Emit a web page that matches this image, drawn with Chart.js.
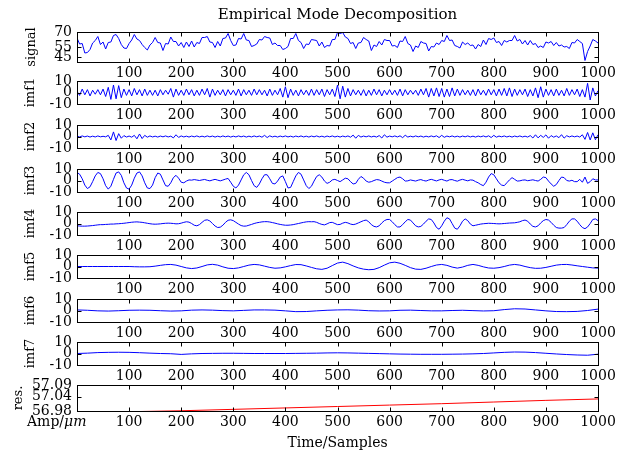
<!DOCTYPE html>
<html>
<head>
<meta charset="utf-8">
<script src="https://cdn.jsdelivr.net/npm/chart.js@4.4.1/dist/chart.umd.min.js"></script>
<style>
  html, body { margin: 0; padding: 0; background: #fff; }
  #fig { position: relative; width: 621px; height: 457px; overflow: hidden; background: #fff; }
  #fig canvas { position: absolute; left: 0; }
</style>
</head>
<body>
<div id="fig"></div>
<script>
// ---- data ---------------------------------------------------------------
const xTicks = [100, 200, 300, 400, 500, 600, 700, 800, 900, 1000];

// signal, imf1..imf4 sampled every 5 samples (0..1000)
const signal = [
  64, 58, 58.5, 49, 49.5, 52.5, 59, 61.5, 65.5, 57.5,
  60, 53, 59.5, 60, 66.5, 67.5, 63.5, 57.5, 54, 53.5,
  58.5, 62, 67.5, 63, 61.5, 57.5, 54.5, 52, 57, 59.5,
  64.5, 59.5, 59, 51.5, 58.5, 58, 65, 60.5, 60.5, 56,
  59.5, 54.5, 60, 55.5, 61, 55, 59.5, 58.5, 64.5, 64.5,
  65.5, 60, 59.5, 54.5, 60.5, 56, 63.5, 64, 68.5, 61.5,
  56.5, 57, 63.5, 63, 68.5, 62, 61.5, 55.5, 56.5, 58,
  62.5, 62, 65.5, 64.5, 64, 57.5, 59, 56.5, 56.5, 52.5,
  53.5, 55.5, 63.5, 63.5, 68.5, 61.5, 59.5, 53.5, 58, 57.5,
  62.5, 62, 61.5, 56, 60, 54.5, 56.5, 56, 62.5, 62.5,
  69.5, 68.5, 69.5, 65, 63.5, 58.5, 59.5, 53.5, 59, 59.5,
  64.5, 62.5, 61, 51.5, 57, 55.5, 60.5, 57, 62.5, 61.5,
  61.5, 56, 56.5, 54.5, 61, 60.5, 65.5, 58.5, 57, 50.5,
  56, 54.5, 60.5, 59, 58.5, 51, 55.5, 55, 59, 57.5,
  61.5, 60.5, 66.5, 61.5, 62, 56.5, 55.5, 54, 60, 57.5,
  59, 56.5, 57, 53, 57.5, 55.5, 62, 57.5, 63.5, 62.5,
  64, 59.5, 60.5, 56.5, 61.5, 60, 61.5, 61.5, 66.5, 61,
  62.5, 58, 61.5, 57, 61.5, 57.5, 58.5, 54.5, 56, 54.5,
  60, 59, 60.5, 56.5, 59.5, 56, 57, 55, 55.5, 53.5,
  59.5, 59, 62.5, 60.5, 58.5, 41.5, 50.5, 56, 62.5, 61,
  59
];

const imf1 = [
  1, -2.5, 3, -2, 2.5, -3, 2, -1.5, 2.5, -2,
  3, -3.5, 4.5, -6, 6.5, -5.5, 6, -4.5, 3, -2.5,
  2.5, -3, 3.5, -2, 2.5, -3, 3, -2.5, 2, -2.5,
  2, -3, 2.5, -2, 2, -1.5, 3.5, -4, 3, -2.5,
  2, -2.5, 3, -2, 2.5, -3, 2, -2.5, 3, -2,
  3.5, -4, 3, -2.5, 2, -2, 2.5, -3, 2.5, -2,
  2, -2.5, 3, -3, 2.5, -2, 2, -2.5, 3, -2,
  2.5, -2, 2, -3, 3, -2.5, 2, -2, 3.5, -4,
  5, -4.5, 3, -2.5, 2, -3, 2.5, -2, 2, -2.5,
  3, -2.5, 2.5, -2, 3, -3.5, 2.5, -2, 3, -3.5,
  6.5, -5.5, 5.5, -4, 3.5, -3, 2.5, -2, 2, -2.5,
  2.5, -3, 2, -2.5, 3, -2, 2.5, -3, 2, -2,
  2.5, -2, 2, -2.5, 3, -3, 2.5, -2, 2, -1.5,
  2, -2.5, 3, -2, 3.5, -4, 3.5, -3, 4, -3.5,
  3.5, -4, 3, -3.5, 4, -3, 3, -2.5, 2.5, -2,
  2, -2.5, 2.5, -3, 3, -2, 2, -2.5, 3, -2,
  2.5, -3, 3, -2.5, 3.5, -3, 4, -3.5, 3, -2.5,
  2.5, -2, 3, -3.5, 2.5, -3, 4, -4.5, 5, -4,
  3, -2.5, 2.5, -3, 3, -2.5, 2, -3, 3.5, -2.5,
  2.5, -2, 3, -3.5, 2.5, -4, 8, -6.5, 4, -3,
  1.5
];

const imf2 = [
  0.3, -0.4, 0.5, -0.3, 0.4, -0.5, 0.3, -0.4, 0.5, -0.3,
  0.2, -0.3, 1, -3, 4, -3.5, 2.5, -1.5, 0.8, -0.5,
  0.4, -0.6, 1, -2, 2.2, -1.8, 1, -0.6, 0.5, -0.4,
  0.3, -0.5, 0.4, -0.3, 0.5, -0.4, 0.3, -1.2, 1.5, -0.8,
  0.5, -0.4, 0.3, -0.5, 0.4, -0.3, 0.5, -0.4, 0.3, -0.4,
  0.5, -0.3, 0.4, -0.5, 0.3, -0.4, 0.5, -0.3, 0.4, -0.5,
  0.3, -0.4, 0.5, -0.3, 0.4, -0.5, 0.3, -0.4, 0.5, -0.3,
  0.4, -0.6, 1, -0.9, 0.6, -0.4, 0.3, -0.5, 0.4, -0.3,
  0.5, -0.4, 0.3, -0.5, 0.4, -0.3, 0.5, -0.4, 0.3, -0.5,
  0.4, -0.3, 0.5, -0.4, 0.3, -0.5, 0.4, -0.3, 0.5, -0.4,
  0.3, -0.5, 0.4, -0.3, 0.5, -0.6, 1.2, -1.5, 1, -0.5,
  0.4, -0.3, 0.5, -0.4, 0.3, -0.5, 0.8, -1.3, 1.5, -0.6,
  0.4, -0.3, 0.5, -0.4, 0.6, -1, 1.1, -0.5, 0.3, -0.4,
  0.5, -0.3, 0.4, -0.5, 0.3, -0.4, 0.5, -0.3, 0.6, -0.9,
  1, -0.7, 0.4, -0.3, 0.5, -0.4, 0.3, -0.5, 0.4, -0.3,
  0.5, -0.4, 0.3, -0.5, 0.4, -0.3, 0.5, -0.4, 0.6, -0.9,
  1, -0.6, 0.4, -0.3, 0.5, -0.4, 0.3, -0.5, 0.4, -0.3,
  0.5, -0.4, 0.3, -0.5, 0.8, -1.3, 1.5, -1.2, 1, -0.8,
  1.4, -1.5, 0.8, -0.6, 0.5, -1, 1.6, -1.4, 0.7, -0.4,
  0.5, -0.3, 0.4, -0.5, 1.5, -2.5, 3.5, -3, 3.2, -2.8,
  1.5
];

const imf3 = [
  7, 5.5, 1.5, -4, -7, -5.5, -1, 4, 7, 6,
  1.5, -4.5, -7.5, -5, 1, 6.5, 7.5, 4.5, -2, -6.5,
  -7.5, -4, 2, 6.5, 7.5, 4, -2, -6.5, -7, -4,
  2.5, 6.5, 5.5, 0.5, -4.5, -5, -2, 2.5, 4.5, 2,
  -1.5, -2, -0.5, 0.5, 0.3, 0.8, 0.4, 0, 0.5, 0.9,
  0.2, -0.3, 0.4, 1, 0.3, -0.3, 0.4, 1.2, 1.8, -1.5,
  -5, -6.5, -4, 0.5, 5, 7, 5, 0, -4.5, -6,
  -3, 1.5, 5, 5, 1.5, -2.5, -3, -0.5, 3, 4,
  -1, -6.5, -6, -1, 4, 7, 5.5, 0.5, -4.5, -7,
  -5, -0.5, 3.5, 5, 3, -0.5, -2.5, -1.5, 0.5, 1,
  0, -1, 0.5, 2, 1.5, -1, -3, -2.5, 1, 3.5,
  2, -0.5, -1.5, -1, 0, 0.8, 0.5, -0.5, -1.5, -2,
  -2, -0.5, 1, 2.5, 3, 1.5, -0.5, -0.3, 0.5, 0,
  -0.5, 0.3, 0.8, 0, -0.5, 0.4, 1, 0.3, -0.4, 0.5,
  1, 0.2, -0.5, 0.6, 0.8, 0, -0.6, 0.4, 1, 0.3,
  -0.3, 0.5, 0.3, -1, -2, -3.5, -4.5, -1.5, 3, 6,
  5, 1.5, -2, -4, -4.5, -2, 0.5, 2.5, 1, -0.5,
  -0.3, 0.3, 0.5, -0.2, 0.2, 0.6, 0, -0.5, 1, 3,
  2.5, -0.5, -3, -5, -3.5, 0, 3, 2.5, 0, -0.5,
  0.2, -1, -1, 1, -1.5, 3, -2.5, -1, 1.5, 0.5,
  0.5
];

const imf4 = [
  -2, -2.2, -2.3, -2.3, -2.2, -2, -1.8, -1.5, -1.2, -1,
  -1, -0.8, -0.7, -0.5, -0.5, -0.3, -0.2, 0, 0.2, 0.5,
  0.8, 1.1, 1.3, 1.4, 1.2, 1, 0.6, 0.2, -0.2, -0.5,
  -0.6, -0.5, -0.3, 0, 0.2, 0.3, 0.2, 0, -0.3, -0.2,
  0.3, 1, 1.5, 1.2, 0, -1.5, -2, -1, 1, 2.8,
  3.2, 2.2, 0, -2.2, -3.5, -3.2, -1.5, 1, 2.8, 3.2,
  2.5, 1, -0.5, -1.8, -2.3, -2.2, -1.5, -0.8, 0, 0.6,
  1, 1.4, 1.6, 1.6, 1.3, 0.8, 0.3, -0.3, -0.8, -1.2,
  -1.5, -1.5, -1.3, -1, -0.5, 0, 0.5, 1, 1.4, 1.6,
  1.5, 1.6, 1, 0, -0.8, -1.2, -0.3, 0.8, 1, 0,
  -1, -0.8, 0.3, 1, 0.5, -0.5, -1, -0.5, 0.5, 1.5,
  2.5, 3, 1.5, -1, -2.5, -3, -2, 0.5, 2.5, 3.5,
  3.5, 1.5, -1, -3, -3, -1, 1.5, 3.5, 3, 0.5,
  -2, -3, -2.5, -0.5, 2, 4, 3.5, 0.5, -3.5, -5,
  -2, 2, 5, 4, 0, -4, -5, -2, 2, 4,
  2.5, -0.5, -2, -1.5, -1, -0.5, -0.2, 0, 0.2, 0.1,
  0, -0.2, -0.3, -0.2, 0, 0.2, 0.4, 0.5, 0.6, 1,
  1.5, 2.5, 3, 2, -0.5, -2.5, -3, -2, 0.5, 2.5,
  3.5, 3, 1, -1.5, -3.5, -4, -4, -3.5, -1, 2,
  4, 4, 2, -1, -3.5, -4.5, -3, 0, 3.5, 4,
  2.5
];

// imf5 sampled every 10 samples
const imf5 = [
  0, 0, 0, 0, 0, 0, 0, 0, 0, 0,
  0, -0.2, -0.3, -0.3, -0.2, 0.3, 1, 1.6, 1.8, 1.2,
  0, -1.2, -1.8, -1.3, 0, 1.4, 1.9, 1.2, -0.3, -1.5,
  -1.8, -1.2, 0, 1.2, 1.8, 1.4, 0.3, -0.8, -1.5, -1.2,
  -0.3, 0.8, 1.7, 1.6, 0.5, -0.8, -2, -2.5, -1.5, 0.8,
  3, 3.8, 2.5, 0.5, -1.2, -2.3, -2.8, -2.5, -1, 1.2,
  3.2, 3.8, 2.8, 1, -1, -2.3, -2.5, -1.5, 0, 1.3,
  1.8, 1, -0.5, -1.4, -0.5, 1, 1.8, 1, -0.3, -1.3,
  -1.5, -1, 0, 1.2, 1.8, 1.2, 0, -1, -1.6, -1.5,
  -0.8, 0.2, 1.2, 1.7, 1.8, 1.3, 0.6, 0, -0.6, -1.2,
  -1.4
];

// imf6, imf7 sampled every 20 samples
const imf6 = [
  0.5, 0.2, -0.3, -0.5, -0.2, 0.2, 0.3, 0.2, -0.2, -0.5,
  -0.3, 0.3, 0.5, 0.3, -0.1, -0.3, 0.1, 0.5, 0.5, 0.3,
  -0.3, -1, -0.9, -0.3, 0.2, 0.5, 0.6, 0.3, -0.2, -0.4,
  -0.3, 0.2, 0.3, 0, -0.3, -0.3, 0, 0.2, -0.1, -0.4,
  -0.2, 0.8, 1.5, 1.3, 0.5, -0.3, -0.9, -1, -0.8, 0,
  1.2
];

const imf7 = [
  0, 0.3, 0.8, 1, 1.1, 1, 0.7, 0.3, 0, -0.2,
  -0.8, -0.3, 0, 0.1, 0.2, 0.2, 0.1, 0, 0, 0,
  0, 0.1, 0.2, 0.3, 0.5, 0.6, 0.5, 0.3, 0.1, -0.1,
  -0.3, -0.5, -0.6, -0.7, -0.7, -0.7, -0.6, -0.5, -0.3, 0,
  0.5, 1, 1.3, 1.2, 0.8, 0.2, -0.4, -0.9, -1.3, -1.5,
  -0.6
];

// residual trend, every 100 samples
const res = [56.972, 56.977, 56.981, 56.987, 56.993, 56.999, 57.005, 57.011, 57.018, 57.025, 57.031];

const signalTicks = [45, 55, 70];
const imfTicks = [-10, 0, 10];
const resTicks = [56.98, 57.04, 57.09];

// ---- layout -------------------------------------------------------------
const FONT = "'DejaVu Serif', 'Liberation Serif', serif";
const CANVAS_W = 640;      // a little wider than the page so the last label never squeezes the plot
const PAD_TOP = 16;
const PAD_RIGHT = 42;      // puts the right frame edge at x = 598
const AXIS_W = 77;         // left frame edge
const X_AXIS_H = 22;
const BLUE = '#0000ff';
const RED = '#ff0000';

const fmtInt = v => String(Math.round(v));
const fmt2 = v => v.toFixed(2);

const panels = [
  { name: 'signal', values: signal, step: 5,   min: 40,    max: 70,    ticks: signalTicks, fmt: fmtInt, color: BLUE, top: 32,  bottom: 62,  labelX: 32 },
  { name: 'imf1',   values: imf1,   step: 5,   min: -10,   max: 10,    ticks: imfTicks,    fmt: fmtInt, color: BLUE, top: 81,  bottom: 104, labelX: 31 },
  { name: 'imf2',   values: imf2,   step: 5,   min: -10,   max: 10,    ticks: imfTicks,    fmt: fmtInt, color: BLUE, top: 125, bottom: 148, labelX: 31 },
  { name: 'imf3',   values: imf3,   step: 5,   min: -10,   max: 10,    ticks: imfTicks,    fmt: fmtInt, color: BLUE, top: 169, bottom: 192, labelX: 31 },
  { name: 'imf4',   values: imf4,   step: 5,   min: -10,   max: 10,    ticks: imfTicks,    fmt: fmtInt, color: BLUE, top: 212, bottom: 235, labelX: 31 },
  { name: 'imf5',   values: imf5,   step: 10,  min: -10,   max: 10,    ticks: imfTicks,    fmt: fmtInt, color: BLUE, top: 255, bottom: 278, labelX: 31 },
  { name: 'imf6',   values: imf6,   step: 20,  min: -10,   max: 10,    ticks: imfTicks,    fmt: fmtInt, color: BLUE, top: 299, bottom: 322, labelX: 31 },
  { name: 'imf7',   values: imf7,   step: 20,  min: -10,   max: 10,    ticks: imfTicks,    fmt: fmtInt, color: BLUE, top: 342, bottom: 365, labelX: 31 },
  { name: 'res.',   values: res,    step: 100, min: 56.98, max: 57.09, ticks: resTicks,    fmt: fmt2,   color: RED,  top: 385, bottom: 411, labelX: 19 }
];

// Boxed axes with inward tick marks on all four sides
const boxFrame = {
  id: 'boxFrame',
  afterDatasetsDraw(chart) {
    const { ctx, chartArea: a, scales: { x, y } } = chart;
    const L = Math.round(a.left) + 0.5, R = Math.round(a.right) + 0.5;
    const T = Math.round(a.top) + 0.5, B = Math.round(a.bottom) + 0.5;
    ctx.save();
    ctx.strokeStyle = '#000';
    ctx.lineWidth = 1;
    ctx.strokeRect(L, T, R - L, B - T);
    ctx.beginPath();
    x.ticks.forEach(t => {
      const px = Math.round(x.getPixelForValue(t.value)) + 0.5;
      ctx.moveTo(px, B); ctx.lineTo(px, B - 4);
      ctx.moveTo(px, T); ctx.lineTo(px, T + 4);
    });
    y.ticks.forEach(t => {
      const py = Math.round(y.getPixelForValue(t.value)) + 0.5;
      ctx.moveTo(L, py); ctx.lineTo(L + 4, py);
      ctx.moveTo(R, py); ctx.lineTo(R - 4, py);
    });
    ctx.stroke();
    ctx.restore();
  }
};

// Unit note on the bottom tick-label row
const unitNote = {
  id: 'unitNote',
  afterDraw(chart) {
    const { ctx, chartArea: a } = chart;
    const y = a.bottom + 3 + 8.4;
    ctx.save();
    ctx.fillStyle = '#000';
    ctx.textBaseline = 'middle';
    ctx.textAlign = 'left';
    ctx.font = '14px ' + FONT;
    const head = 'Amp/';
    ctx.fillText(head, 27, y);
    const w = ctx.measureText(head).width;
    ctx.font = 'italic 14px ' + FONT;
    ctx.fillText('\u03bcm', 27 + w, y);
    ctx.restore();
  }
};

const fig = document.getElementById('fig');

panels.forEach((p, idx) => {
  const first = idx === 0;
  const last = idx === panels.length - 1;
  const canvasTop = first ? 0 : p.top - PAD_TOP;
  const xAxisH = last ? 457 - p.bottom : X_AXIS_H;
  const h = (p.bottom - canvasTop) + xAxisH;

  const cv = document.createElement('canvas');
  cv.width = CANVAS_W;
  cv.height = h;
  cv.style.width = CANVAS_W + 'px';
  cv.style.height = h + 'px';
  cv.style.top = canvasTop + 'px';
  fig.appendChild(cv);

  const lineHeight = 13 * 1.2;

  new Chart(cv, {
    type: 'line',
    data: {
      datasets: [{
        label: p.name,
        data: p.values.map((v, i) => ({ x: i * p.step, y: v })),
        borderColor: p.color,
        borderWidth: 1,
        pointRadius: 0,
        tension: 0,
        fill: false
      }]
    },
    options: {
      responsive: false,
      animation: false,
      devicePixelRatio: 1,
      layout: { padding: { top: first ? 0 : PAD_TOP, right: PAD_RIGHT, bottom: 0, left: 0 } },
      plugins: {
        legend: { display: false },
        tooltip: { enabled: false },
        title: {
          display: first,
          text: 'Empirical Mode Decomposition',
          fullSize: false,
          color: '#000',
          font: { family: FONT, size: 15, weight: 'normal' },
          padding: { top: 6, bottom: 8 }
        }
      },
      scales: {
        x: {
          type: 'linear',
          min: 0,
          max: 1000,
          afterBuildTicks: s => { s.ticks = xTicks.map(v => ({ value: v })); },
          afterFit: s => { s.height = xAxisH; },
          grid: { display: false, drawTicks: false },
          border: { display: false },
          ticks: {
            padding: 3, color: '#000', autoSkip: false, maxRotation: 0,
            font: { family: FONT, size: 14 },
            callback: v => String(v)
          },
          title: {
            display: last,
            text: 'Time/Samples',
            color: '#000',
            font: { family: FONT, size: 14 },
            padding: { top: 0, bottom: 5 }
          }
        },
        y: {
          type: 'linear',
          min: p.min,
          max: p.max,
          afterBuildTicks: s => { s.ticks = p.ticks.map(v => ({ value: v })); },
          afterFit: s => { s.width = AXIS_W; },
          grid: { display: false, drawTicks: false },
          border: { display: false },
          ticks: {
            padding: 5, color: '#000', autoSkip: false,
            font: { family: FONT, size: 14 },
            callback: v => p.fmt(v)
          },
          title: {
            display: true,
            text: p.name,
            color: '#000',
            font: { family: FONT, size: 13 },
            padding: { top: p.labelX - lineHeight / 2, bottom: 0 }
          }
        }
      }
    },
    plugins: last ? [boxFrame, unitNote] : [boxFrame]
  });
});
</script>
</body>
</html>
